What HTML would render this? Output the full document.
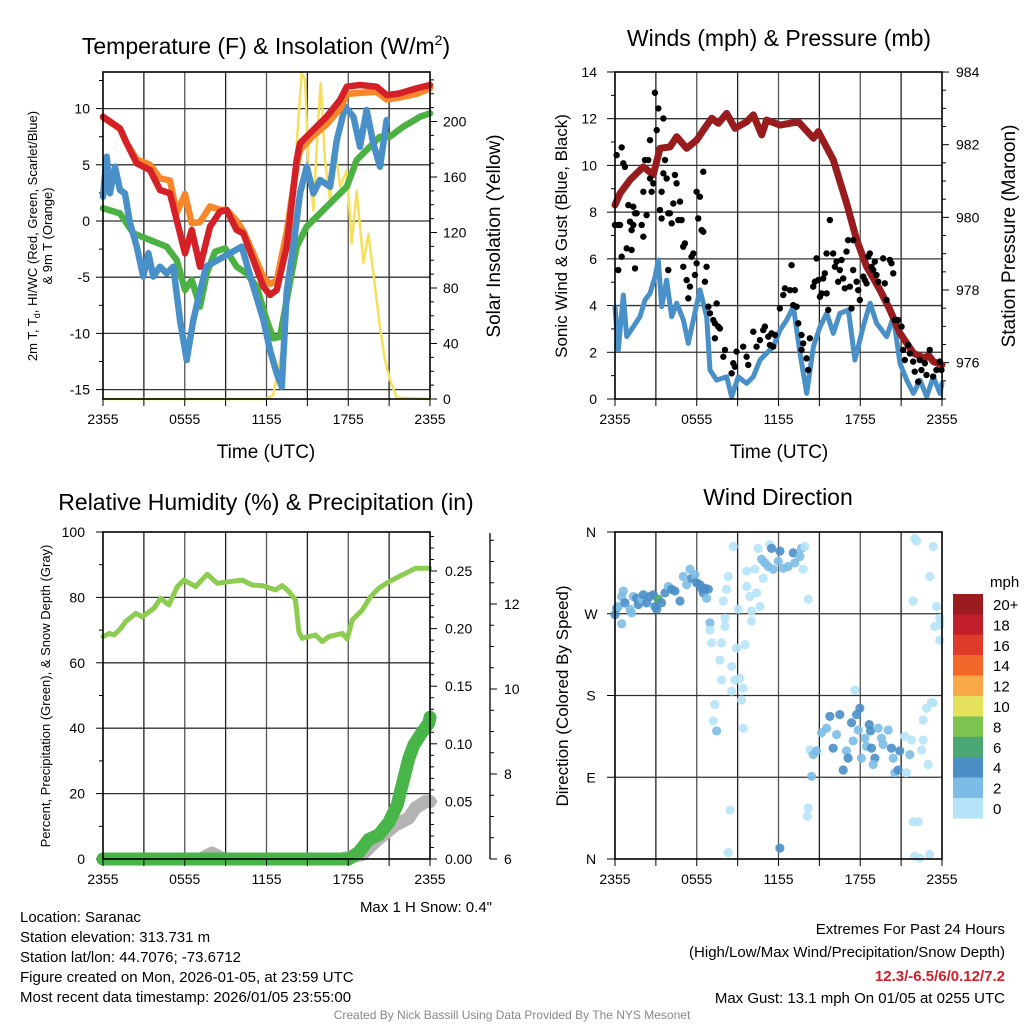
<!DOCTYPE html>
<html><head><meta charset="utf-8"><style>
body{margin:0;background:#fff}
svg{display:block;font-family:"Liberation Sans",sans-serif}
</style></head><body>
<svg id="c" width="1024" height="1024" viewBox="0 0 1024 1024">
<rect width="1024" height="1024" fill="#fff"/>
<text x="266" y="54" font-size="23" text-anchor="middle">Temperature (F) &amp; Insolation (W/m<tspan font-size="14" dy="-9">2</tspan><tspan dy="9">)</tspan></text>
<text x="779" y="46" font-size="23" text-anchor="middle">Winds (mph) &amp; Pressure (mb)</text>
<text x="266" y="510" font-size="23" text-anchor="middle">Relative Humidity (%) &amp; Precipitation (in)</text>
<text x="778" y="505" font-size="23" text-anchor="middle">Wind Direction</text>
<text x="266" y="458" font-size="19" text-anchor="middle">Time (UTC)</text>
<text x="779" y="458" font-size="19" text-anchor="middle">Time (UTC)</text>
<text transform="translate(37,236) rotate(-90)" font-size="13" text-anchor="middle">2m T, T<tspan font-size="9" dy="3">d</tspan><tspan dy="-3">, HI/WC (Red, Green, Scarlet/Blue)</tspan></text>
<text transform="translate(52,236) rotate(-90)" font-size="13" text-anchor="middle">&amp; 9m T (Orange)</text>
<text transform="translate(500,236) rotate(-90)" font-size="19" text-anchor="middle">Solar Insolation (Yellow)</text>
<text transform="translate(567,236) rotate(-90)" font-size="17" text-anchor="middle">Sonic Wind &amp; Gust (Blue, Black)</text>
<text transform="translate(1015,236) rotate(-90)" font-size="19" text-anchor="middle">Station Pressure (Maroon)</text>
<text transform="translate(50,696) rotate(-90)" font-size="13" text-anchor="middle">Percent, Precipitation (Green), &amp; Snow Depth (Gray)</text>
<text transform="translate(568,696) rotate(-90)" font-size="17" text-anchor="middle">Direction (Colored By Speed)</text>
<text x="492" y="912" font-size="15" text-anchor="end">Max 1 H Snow: 0.4"</text>
<g font-size="15">
<text x="20" y="922">Location: Saranac</text>
<text x="20" y="942">Station elevation: 313.731 m</text>
<text x="20" y="962">Station lat/lon: 44.7076; -73.6712</text>
<text x="20" y="982">Figure created on Mon, 2026-01-05, at 23:59 UTC</text>
<text x="20" y="1002">Most recent data timestamp: 2026/01/05 23:55:00</text>
</g>
<g font-size="15" text-anchor="end">
<text x="1005" y="934">Extremes For Past 24 Hours</text>
<text x="1005" y="957">(High/Low/Max Wind/Precipitation/Snow Depth)</text>
<text x="1005" y="981" fill="#d0202a" font-weight="bold">12.3/-6.5/6/0.12/7.2</text>
<text x="1005" y="1003">Max Gust: 13.1 mph On 01/05 at 0255 UTC</text>
</g>
<text x="512" y="1019" font-size="12" fill="#888" text-anchor="middle">Created By Nick Bassill Using Data Provided By The NYS Mesonet</text>
</svg>
<script>
// ---- data ----
const xTickLabels=["2355","0555","1155","1755","2355"];
const redH=[0,1.25,1.74,2.47,3.45,4.18,4.92,5.41,6.02,6.51,7.12,7.85,8.59,9.08,9.81,10.3,11.03,11.77,12.26,12.75,13.48,14.22,14.46,15.43,16.42,17.4,17.89,18.86,20.09,20.82,21.8,23.0,24];
const redT=[9.28,8.24,6.91,5.13,4.54,2.76,2.46,0.09,-2.87,-0.8,-4.07,-0.5,0.83,0.98,-0.8,-1.1,-3.47,-5.84,-6.58,-6.14,-2.28,5.43,6.91,8.1,9.28,10.77,11.95,12.1,11.95,11.2,11.36,11.8,12.1];
const orangeT=[9.2,8.2,6.9,5.5,5.0,3.8,3.6,0.7,2.4,-0.2,-0.1,1.3,1.0,1.0,0.0,-0.9,-2.9,-5.0,-5.6,-5.3,-1.0,5.0,6.3,7.6,8.6,10.0,11.3,11.4,11.5,10.8,11.0,11.3,11.8];
const greenH=[0,1.25,2.23,3.45,4.67,5.41,6.02,6.51,7.12,7.61,8.22,8.96,9.81,10.54,11.28,12.01,12.5,12.99,13.48,14.22,14.95,15.93,16.91,17.89,18.62,19.35,20.33,21.06,22.04,23.27,24];
const greenT=[1.13,0.68,-1.1,-1.69,-2.28,-3.47,-6.14,-5.25,-7.62,-4.66,-2.73,-2.43,-4.07,-4.66,-5.84,-8.81,-10.44,-10.29,-7.03,-2.28,-0.5,0.68,1.87,3.05,5.43,6.32,7.5,7.5,8.39,9.28,9.58];
const blueH=[0,0.27,0.51,0.88,1.25,1.61,1.98,2.47,2.96,3.33,3.69,4.18,4.67,5.16,5.65,6.14,6.63,7.12,7.56,10.18,11.03,11.77,12.26,12.75,13.12,13.48,13.97,14.46,14.95,15.44,15.93,16.67,17.16,17.77,18.38,18.86,19.35,19.84,20.33,20.82];
const blueT=[2.16,5.72,2.46,4.83,2.76,2.46,-0.2,-2.28,-4.95,-2.87,-4.95,-4.07,-4.66,-4.07,-8.81,-12.37,-8.81,-6.29,-4.07,-2.28,-5.84,-8.81,-11.48,-13.55,-14.74,-6.29,-2.28,2.46,4.83,2.46,3.65,3.05,7.21,10.17,9.28,6.61,9.88,6.91,4.83,8.99];
const solarH=[0,11.99,12.5,13.12,13.73,14.22,14.58,14.83,15.07,15.44,15.8,15.98,16.29,16.67,17.03,17.4,17.89,18.25,18.62,19.11,19.48,19.84,20.33,20.7,21.06,21.55,24];
const solarW=[0,0,3,35,100,184,235,230,172,136,203,228,172,143,182,153,165,112,150,98,119,91,52,28,14,1,0];
const presH=[0,0.37,1.1,2.08,2.81,3.3,4.04,4.53,5.26,6.0,6.48,7.1,7.58,8.2,8.81,9.66,10.15,10.77,11.13,12.11,13.46,14.56,14.92,16.02,17.0,17.74,18.47,19.45,20.18,20.92,21.9,22.75,23.0,23.36,24];
const presMb=[980.34,980.66,981.03,981.39,981.17,981.9,981.94,982.22,981.9,982.13,982.4,982.73,982.59,982.86,982.45,982.63,982.82,982.27,982.68,982.54,982.63,982.18,982.36,981.58,980.39,979.38,978.64,978.0,977.45,976.81,976.26,976.12,976.21,976.03,975.94];
const windH=[0,0.24,0.61,0.86,1.35,1.83,2.2,2.57,2.94,3.18,3.43,3.79,4.16,4.53,5.02,5.38,5.75,6.24,6.73,6.97,7.46,8.2,8.56,9.05,9.66,10.15,10.64,11.13,11.62,12.11,12.6,13.09,13.58,14.07,14.56,15.05,15.54,16.02,16.51,17.13,17.61,18.22,18.72,19.2,19.94,20.43,20.92,21.41,21.9,22.39,22.88,23.36,23.85,24];
const windMph=[3.95,2.1,4.45,2.67,3.1,3.52,4.24,4.52,5.24,5.95,3.95,5.09,3.52,4.1,3.38,2.38,3.38,4.67,3.52,1.24,0.81,0.95,0.1,0.95,0.67,0.95,1.67,1.96,2.24,2.95,3.38,3.95,1.96,0.24,2.24,3.1,3.67,2.81,3.67,3.81,1.67,3.1,4.1,3.24,2.67,3.52,1.53,0.81,0.24,0.81,0.1,0.95,0.24,0.67];
const gustH=[0,0.24,0.12,0.49,0.61,0.73,0.37,0.49,0.24,0.98,0.86,1.22,1.1,1.22,1.34,1.34,1.47,1.59,1.47,1.96,2.08,2.08,2.2,2.32,2.44,2.57,2.57,2.69,2.81,2.93,3.06,3.18,3.3,3.42,3.55,3.55,3.67,3.42,3.79,3.91,4.03,4.16,3.91,4.28,4.4,4.52,4.77,4.89,4.65,5.01,5.13,5.01,5.26,5.38,5.5,5.62,5.75,5.87,5.99,5.99,6.11,6.23,6.36,6.48,6.48,6.72,6.6,6.85,6.97,7.21,7.33,7.46,7.58,7.33,7.7,8.07,7.95,8.56,8.68,8.92,9.41,8.8,9.66,9.78,10.15,10.39,10.64,10.88,11.0,11.25,11.37,11.49,11.74,11.61,12.1,12.35,12.47,12.84,12.96,13.2,13.08,13.33,13.45,13.69,13.81,14.06,14.18,14.3,13.69,14.79,14.55,14.67,14.91,15.04,15.16,15.28,15.4,15.53,15.65,15.77,15.53,16.01,16.14,16.26,16.38,16.5,16.63,16.75,16.87,16.99,17.11,17.24,17.36,17.48,17.48,17.73,17.85,17.97,18.22,18.34,18.46,18.58,18.7,18.83,18.95,19.07,19.19,19.32,19.68,19.8,19.93,20.17,20.29,20.42,20.54,20.78,21.03,21.15,21.27,21.52,21.64,21.88,22.0,22.25,22.37,22.49,22.74,22.86,23.1,23.35,23.59,23.84,23.96];
const gustMph=[7.45,7.45,10.44,10.77,10.09,9.94,7.45,6.09,5.52,8.3,6.45,6.38,7.59,7.23,8.23,7.45,7.95,7.95,5.59,7.45,6.95,8.87,10.23,7.87,10.23,11.08,9.44,8.87,9.23,13.11,11.51,12.44,8.09,7.73,12.01,9.66,10.23,8.87,9.44,7.95,7.95,7.52,5.52,8.37,9.59,9.23,8.45,7.66,7.66,6.52,6.66,5.66,5.09,4.31,4.81,6.09,6.23,5.31,5.81,8.87,7.73,8.66,7.23,7.16,9.73,5.66,5.02,3.95,3.67,3.38,3.24,4.09,3.1,2.6,3.02,2.1,1.81,1.1,1.53,2.03,2.24,1.38,1.81,1.46,2.88,2.24,2.52,2.95,3.1,2.67,2.31,2.81,2.74,2.24,3.88,4.45,4.74,4.66,5.73,4.66,4.02,3.95,3.24,2.74,2.38,1.74,1.24,2.6,2.1,6.02,4.81,5.02,5.09,4.38,4.52,5.16,5.38,4.52,3.81,7.66,6.23,6.23,5.66,5.88,5.02,5.52,5.95,5.16,4.74,6.31,6.8,4.81,3.88,6.8,5.52,5.02,4.66,4.24,5.24,5.09,4.95,6.09,6.23,5.66,5.52,5.88,5.31,5.02,6.02,4.95,4.24,5.95,5.81,5.38,3.38,3.38,3.1,2.1,1.67,2.31,1.95,1.6,1.17,0.74,1.67,1.24,1.53,1.03,2.1,0.96,1.24,1.6,1.24];
const rhH=[0,0.44,0.81,1.3,1.66,2.4,2.89,3.74,4.23,4.84,5.45,5.94,6.8,7.65,8.39,9.24,10.22,10.95,11.69,12.67,13.15,13.64,14.13,14.38,14.62,15.6,16.09,16.58,17.56,17.92,18.29,19.02,19.63,20.24,20.98,21.71,22.93,23.98];
const rhPct=[68.0,69.0,68.5,70.5,72.6,75.1,74.1,76.7,79.7,77.7,83.3,85.3,83.3,87.1,84.3,84.8,85.3,83.8,83.6,82.3,83.6,81.8,79.2,69.5,67.5,68.5,66.5,68.0,69.0,67.3,73.1,76.1,80.2,82.8,84.8,86.3,88.9,88.9];
const precipH=[0,18.04,18.78,19.51,20.24,20.98,21.59,22.08,22.44,22.81,23.3,23.91,24];
const precipIn=[0,0,0.006,0.017,0.021,0.032,0.047,0.07,0.087,0.099,0.108,0.118,0.123];
const snowH=[0,7.2,8.0,8.8,17.5,19.0,20.0,21.47,22.44,22.93,23.67,24];
const snowIn=[6,6,6.14,6,6,6.1,6.41,6.8,6.96,7.2,7.35,7.35];
const dirH=[0,0.12,0.24,0.49,0.49,0.73,0.61,1.1,1.22,1.34,1.59,1.71,1.96,2.08,2.32,2.57,2.81,2.93,3.06,3.18,3.42,3.67,3.91,4.16,4.4,4.77,5.01,5.26,5.5,5.62,5.87,5.99,6.23,6.36,6.48,6.6,6.85,6.72,
6.97,6.97,7.09,7.82,7.7,7.82,7.33,7.21,7.46,8.19,8.31,7.95,8.07,8.07,8.68,8.92,9.05,8.56,8.8,9.17,8.56,9.29,9.41,9.54,9.41,8.44,8.31,9.66,9.66,9.9,10.02,10.02,10.27,10.39,10.64,10.51,10.88,11.37,
10.76,11.0,11.25,11.61,11.49,12.1,11.98,12.35,12.71,13.08,13.2,13.57,13.69,13.94,13.81,14.18,12.1,
14.43,14.3,14.55,14.79,15.16,15.53,15.77,16.01,16.26,16.5,16.75,16.99,17.11,17.36,17.48,17.6,17.73,17.85,17.97,18.09,18.34,18.46,18.66,18.75,18.83,19.07,18.95,19.32,19.56,19.68,20.05,20.29,20.42,20.54,20.78,20.9,21.27,21.64,21.76,21.39,22.5,22.98,22.62,22.86,23.23,22.62,23.35,14.18,14.11,
22.0,22.13,23.35,23.11,21.88,23.59,23.47,23.84,23.84,21.88,22.25,22.0,22.37,23.1,23.84];
const dirDeg=[269,276,278,259,289,282,295,275,271,289,287,280,286,291,282,289,291,278,275,286,282,293,300,297,295,284,311,302,319,309,313,304,302,298,293,298,297,287,
260,252,238,238,219,197,170,152,141,297,311,284,265,256,344,232,275,212,197,199,185,175,188,236,144,54,7,317,300,289,273,262,319,293,278,342,309,346,
330,326,322,319,342,339,328,320,322,337,326,333,342,344,319,286,12,
91,120,115,119,139,144,157,122,137,159,98,119,111,150,130,186,159,142,166,111,133,124,148,141,122,111,104,144,133,126,142,122,111,95,98,119,135,115,131,95,120,104,153,166,172,131,172,56,47,
353,350,344,311,284,278,256,258,241,41,41,3,1,5,265];
const dirSpd=[4,4,3,3,3,4,3,3,3,3,4,4,3,4,4,4,4,4,4,6,4,4,3,4,4,4,3,3,3,4,3,4,4,4,4,4,4,3,
3,1,1,1,1,1,1,1,3,1,1,1,1,1,1,1,1,1,1,1,1,1,1,1,1,1,1,1,1,1,1,1,1,1,1,1,1,1,
3,3,3,3,4,4,3,3,3,5,3,3,3,1,1,1,5,
3,1,3,3,3,3,4,5,3,4,4,3,5,4,3,1,4,3,4,3,3,3,5,5,5,5,3,3,3,3,3,5,3,3,4,4,1,3,1,1,1,1,1,1,1,1,1,1,1,
1,1,1,1,1,1,1,1,1,1,1,1,1,1,1];
const cbLabels=["20+","18","16","14","12","10","8","6","4","2","0"];
const cbColors=["#9b1c1f","#c1202a","#e03a2b","#f2682a","#f9a847","#e6e15a","#7dc34f","#4aa672","#4a8ec6","#7cbce6","#b6e3f7"];
// ---- drawing ----
const NS="http://www.w3.org/2000/svg";
const svg=document.getElementById('c');
function el(tag,attrs,parent){const e=document.createElementNS(NS,tag);for(const k in attrs)e.setAttribute(k,attrs[k]);(parent||svg).appendChild(e);return e;}
const xL=h=>103+h*327/24, xR=h=>615+h*327/24;
const yT=v=>221-v*11.24, yS=v=>399-v*1.3875, yW=v=>399-v*23.36, yP=v=>399-(v-975)*36.33;
const yRH=v=>859-v*3.27, yPr=v=>859-v*1152, ySn=v=>859-(v-6)*42.5, yD=v=>859-v*327/360;
function pts(hs,vs,fx,fy){return hs.map((h,i)=>fx(h).toFixed(1)+","+fy(vs[i]).toFixed(1)).join(" ");}
function frame(x0,y0,name){
  const g=el('g',{});
  
  
  for(let k=1;k<8;k++){const x=x0+k*327/8;el('line',{x1:x,x2:x,y1:y0,y2:y0+327,stroke:k%2?'#222':'#555','stroke-width':1.3},g);}
  return g;
}
function hline(g,x0,y,w){el('line',{x1:x0,x2:x0+w,y1:y,y2:y,stroke:'#333','stroke-width':1.3},g);}
function xticks(x0,name){
  const g=el('g',{'font-size':14,'text-anchor':'middle'});
  
  
  return g;
}
function line(p,color,w,name){const e=el('polyline',{points:p,fill:'none',stroke:color,'stroke-width':w,'stroke-linejoin':'round','stroke-linecap':'round'});
  
  
  return e;}
// Panel 1
let g=frame(103,72,'temp');
[10,5,0,-5,-10,-15].forEach(v=>hline(g,103,yT(v),327));
let gt=el('g',{'font-size':14,'text-anchor':'end'});


for(let v=-15;v<=12.5;v+=2.5){const y=yT(v);el('line',{x1:v%5===0?96:99,x2:103,y1:y,y2:y,stroke:'#000'},gt);if(v%5===0){const t=el('text',{x:90,y:y+5},gt);t.textContent=v;}}
let gs=el('g',{'font-size':14});


for(let v=0;v<=230;v+=10){const y=yS(v);el('line',{x1:430,x2:v%40===0?437:434,y1:y,y2:y,stroke:'#000'},gs);if(v%40===0&&v<=200){const t=el('text',{x:443,y:y+5},gs);t.textContent=v;}}
line(pts(solarH,solarW,xL,yS),'#f6e05a',2.5,'solar-line');
line(pts(greenH,greenT,xL,yT),'#4bb143',6.5,'dewpoint-line');
line(pts(blueH,blueT,xL,yT),'#4a90c8',6.5,'windchill-line');
line(pts(redH,orangeT,xL,yT),'#f6882b',6.5,'temp-9m-line');
line(pts(redH,redT,xL,yT),'#d42026',6.5,'temp-2m-line');
el('rect',{x:103,y:72,width:327,height:327,fill:'none',stroke:'#000','stroke-width':1.6});
// Panel 2
g=frame(615,72,'wind');
for(let v=2;v<=12;v+=2)hline(g,615,yW(v),327);
let gw=el('g',{'font-size':14,'text-anchor':'end'});


for(let v=0;v<=14;v++){const y=yW(v);el('line',{x1:v%2?611:607,x2:615,y1:y,y2:y,stroke:'#000'},gw);if(v%2===0){const t=el('text',{x:597,y:y+5},gw);t.textContent=v;}}
let gp=el('g',{'font-size':14});


for(let v=975;v<=984;v+=0.5){const y=yP(v);el('line',{x1:942,x2:v%2===0?949:946,y1:y,y2:y,stroke:'#000'},gp);if(v%2===0){const t=el('text',{x:956,y:y+5},gp);t.textContent=v;}}
line(pts(windH,windMph,xR,yW),'#4a90c8',5,'sustained-wind-line');
line(pts(presH,presMb,xR,yP),'#981b1e',7,'pressure-line');
gustH.forEach((h,i)=>{const c=el('circle',{cx:xR(h),cy:yW(gustMph[i]),r:3.2,fill:'#000'});
  
  });
el('rect',{x:615,y:72,width:327,height:327,fill:'none',stroke:'#000','stroke-width':1.6});
// Panel 3
g=frame(103,532,'humidity');
[20,40,60,80].forEach(v=>hline(g,103,yRH(v),327));
let gr=el('g',{'font-size':14,'text-anchor':'end'});


for(let v=0;v<=100;v+=10){const y=yRH(v);el('line',{x1:v%20?99:96,x2:103,y1:y,y2:y,stroke:'#000'},gr);if(v%20===0){const t=el('text',{x:85,y:y+5},gr);t.textContent=v;}}
let gq=el('g',{'font-size':14});


for(let k=0;k<=28;k++){const v=k*0.01;const y=yPr(v);el('line',{x1:430,x2:k%5===0?437:434,y1:y,y2:y,stroke:'#000'},gq);if(k%5===0){const t=el('text',{x:445,y:y+5},gq);t.textContent=v.toFixed(2);}}
let gn=el('g',{'font-size':14});


el('line',{x1:490,x2:490,y1:533,y2:859,stroke:'#000','stroke-width':1.3},gn);
for(let v=6;v<=13.5;v+=0.5){const y=ySn(v);el('line',{x1:490,x2:v%2===0?497:494,y1:y,y2:y,stroke:'#000'},gn);if(v%2===0){const t=el('text',{x:504,y:y+5},gn);t.textContent=v;}}
line(pts(rhH,rhPct,xL,yRH),'#8ccc50',5,'humidity-line');
line(pts(snowH,snowIn,xL,ySn),'#b3b3b3',13,'snow-depth-line');
line(pts(precipH,precipIn,xL,yPr),'#48b548',13,'precip-line');
el('line',{x1:103,x2:xL(18),y1:859,y2:859,stroke:'#1a5a1a','stroke-width':1.5});
el('rect',{x:103,y:532,width:327,height:327,fill:'none',stroke:'#000','stroke-width':1.6});
// Panel 4
g=frame(615,532,'direction');
[90,180,270].forEach(v=>hline(g,615,yD(v),327));
let gd=el('g',{'font-size':14,'text-anchor':'middle'});


[["N",360],["W",270],["S",180],["E",90],["N",0]].forEach(([s,v])=>{const y=yD(v);el('line',{x1:607,x2:615,y1:y,y2:y,stroke:'#000'},gd);const t=el('text',{x:591,y:y+5},gd);t.textContent=s;});
dirH.forEach((h,i)=>{const c=el('circle',{cx:xR(h),cy:yD(dirDeg[i]),r:4.6,fill:cbColors[10-Math.floor(dirSpd[i]/2)],'fill-opacity':0.9});
  
  });
el('rect',{x:615,y:532,width:327,height:327,fill:'none',stroke:'#000','stroke-width':1.6});
// colorbar
let gc=el('g',{'font-size':15});


let tm=el('text',{x:990,y:587},gc);tm.textContent='mph';
cbColors.forEach((c,i)=>{el('rect',{x:953,y:594+i*20.4,width:30,height:20.6,fill:c},gc);const t=el('text',{x:993,y:610+i*20.4},gc);t.textContent=cbLabels[i];});
// x ticks
[[xL,399,'temp'],[xR,399,'wind'],[xL,859,'humidity'],[xR,859,'direction']].forEach(([fx,y,n])=>{
  const gx=xticks(0,n+'-x-ticks');
  for(let h=0;h<=24;h+=3){el('line',{x1:fx(h),x2:fx(h),y1:y,y2:y+7,stroke:'#000'},gx);}
  xTickLabels.forEach((s,i)=>{const t=el('text',{x:fx(i*6),y:y+25},gx);t.textContent=s;});
});
</script>
</body></html>
